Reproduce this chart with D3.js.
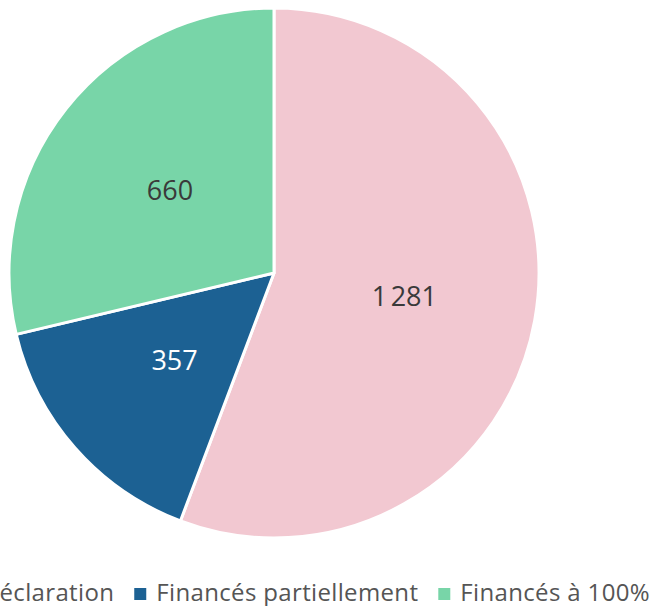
<!DOCTYPE html>
<html>
<head>
<meta charset="utf-8">
<script src="https://cdn.jsdelivr.net/npm/d3@7"></script>
<style>
  body { margin: 0; background: #fff; }
  svg { display: block; font-family: "Open Sans", "DejaVu Sans", sans-serif; }
</style>
</head>
<body>
<div id="chart"></div>
<script>
const categories = ['Sans déclaration', 'Financés partiellement', 'Financés à 100%'];
const values = [1281, 357, 660];
const colors = ['#f2c8d1', '#1c6193', '#78d5a8'];
const labelColors = ['#3a3a3a', '#ffffff', '#3a3a3a'];

const width = 656;
const height = 606;
const cx = 274, cy = 273, radius = 265;

const svg = d3.select('#chart')
    .append('svg')
    .attr('width', width)
    .attr('height', height);

const pie = d3.pie().sort(null).value(d => d.value);
const arcs = pie(categories.map((c, i) => ({ name: c, value: values[i], i })));

const arc = d3.arc().innerRadius(0).outerRadius(radius);

const g = svg.append('g').attr('transform', `translate(${cx},${cy})`);

g.selectAll('path')
    .data(arcs)
    .join('path')
    .attr('d', arc)
    .attr('fill', d => colors[d.data.i])
    .attr('stroke', '#fff')
    .attr('stroke-width', 3)
    .attr('stroke-linejoin', 'round');

const fmt = d3.formatLocale({ decimal: ',', thousands: '\u202f', grouping: [3], currency: ['', '€'] }).format(',d');

g.selectAll('text')
    .data(arcs)
    .join('text')
    .attr('transform', d => `translate(${arc.centroid(d)})`)
    .attr('text-anchor', 'middle')
    .attr('dy', '0.35em')
    .attr('font-size', 27)
    .attr('fill', d => labelColors[d.data.i])
    .text(d => fmt(d.data.value));

// legend, laid out from the right edge
const legend = svg.append('g')
    .attr('font-size', 24)
    .attr('letter-spacing', 0.35)
    .attr('fill', '#555');
const items = legend.selectAll('g')
    .data(categories)
    .join('g');
items.append('rect')
    .attr('width', 12).attr('height', 12)
    .attr('y', -13)
    .attr('fill', (d, i) => colors[i]);
items.append('text')
    .attr('x', 22)
    .text(d => d);

let right = 650;
const nodes = items.nodes();
for (let k = nodes.length - 1; k >= 0; k--) {
    const w = 22 + d3.select(nodes[k]).select('text').node().getComputedTextLength();
    const x = right - w;
    d3.select(nodes[k]).attr('transform', `translate(${x},601)`);
    right = x - 20;
}
</script>
</body>
</html>
